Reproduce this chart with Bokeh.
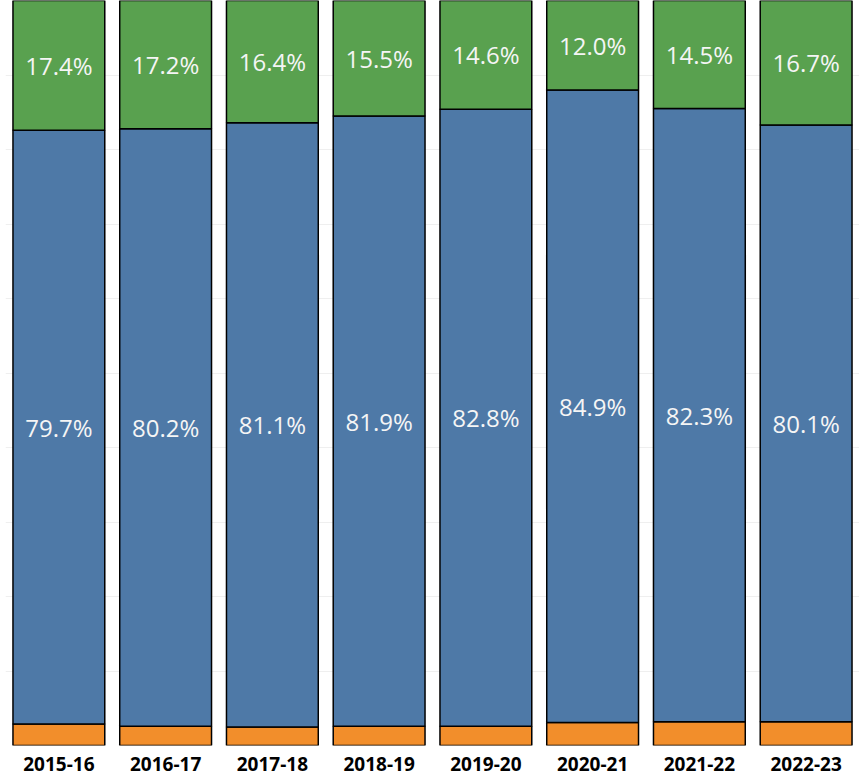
from bokeh.plotting import figure
from bokeh.models import ColumnDataSource, Range1d, SingleIntervalTicker
from bokeh.core.properties import value
from bokeh.embed import file_html
from bokeh.resources import INLINE

years = ["2015-16", "2016-17", "2017-18", "2018-19", "2019-20", "2020-21", "2021-22", "2022-23"]
orange_vals = [2.9, 2.6, 2.5, 2.6, 2.6, 3.1, 3.2, 3.2]
blue_vals = [79.7, 80.2, 81.1, 81.9, 82.8, 84.9, 82.3, 80.1]
green_vals = [17.4, 17.2, 16.4, 15.5, 14.6, 12.0, 14.5, 16.7]

o_top = orange_vals
b_top = [o + b for o, b in zip(orange_vals, blue_vals)]
g_top = [bt + g for bt, g in zip(b_top, green_vals)]

src = ColumnDataSource(dict(
    x=years,
    o_bot=[0] * len(years), o_top=o_top,
    b_bot=o_top, b_top=b_top,
    g_bot=b_top, g_top=g_top,
    b_mid=[(a + b) / 2 for a, b in zip(o_top, b_top)],
    g_mid=[(a + b) / 2 for a, b in zip(b_top, g_top)],
    b_lab=[f"{v:.1f}%" for v in blue_vals],
    g_lab=[f"{v:.1f}%" for v in green_vals],
))

p = figure(x_range=years, y_range=Range1d(0, 100), width=859, height=778,
           output_backend="svg", toolbar_location=None,
           min_border_left=5, min_border_right=0, min_border_top=0, min_border_bottom=33)

W = 0.86
p.vbar(x="x", bottom="o_bot", top="o_top", width=W, source=src,
       fill_color="#F28E2B", line_color="black", line_width=1.5)
p.vbar(x="x", bottom="b_bot", top="b_top", width=W, source=src,
       fill_color="#4E79A7", line_color="black", line_width=1.5)
p.vbar(x="x", bottom="g_bot", top="g_top", width=W, source=src,
       fill_color="#59A14F", line_color="black", line_width=1.5)

for ycol, tcol in (("b_mid", "b_lab"), ("g_mid", "g_lab")):
    p.text(x="x", y=ycol, text=tcol, source=src, text_align="center",
           text_baseline="middle", text_color="#F5F5F5",
           text_font=value("Open Sans"), text_font_size="24px")

p.yaxis.visible = False
p.yaxis.ticker = SingleIntervalTicker(interval=10)
p.ygrid.ticker = SingleIntervalTicker(interval=10)
p.ygrid.grid_line_color = "#EFEFEF"
p.xgrid.grid_line_color = None
p.outline_line_color = None

p.xaxis.axis_line_color = None
p.xaxis.major_tick_line_color = None
p.xaxis.minor_tick_line_color = None
p.xaxis.major_label_text_font = "Open Sans"
p.xaxis.major_label_text_font_style = "bold"
p.xaxis.major_label_text_font_size = "19px"
p.xaxis.major_label_text_color = "black"
p.xaxis.major_label_standoff = 5

open("out.html", "w").write(file_html(p, INLINE))
